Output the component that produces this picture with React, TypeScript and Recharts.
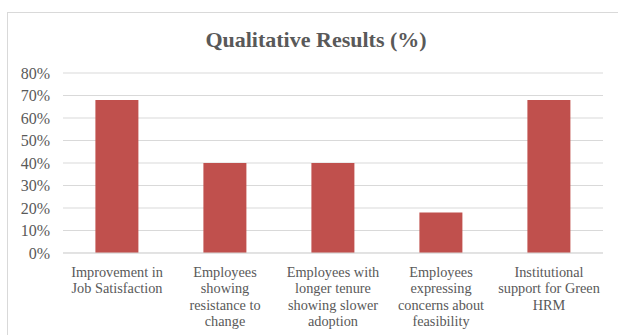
import React from 'react';
import { BarChart, Bar, XAxis, YAxis, CartesianGrid } from 'recharts';

const categories = [
  'Improvement in\nJob Satisfaction',
  'Employees\nshowing\nresistance to\nchange',
  'Employees with\nlonger tenure\nshowing slower\nadoption',
  'Employees\nexpressing\nconcerns about\nfeasibility',
  'Institutional\nsupport for Green\nHRM',
];
const percentages = [68, 40, 40, 18, 68];
const yTicks = [0, 10, 20, 30, 40, 50, 60, 70, 80];

const data = categories.map((name, i) => ({ name, value: percentages[i] }));

const FONT = "'Liberation Serif', 'Times New Roman', serif";
const TEXT = '#595959';
const GRID = '#D9D9D9';

function WrappedTick({ x, y, payload }: any) {
  const lines = String(payload.value).split('\n');
  return (
    <text x={x} y={y} textAnchor="middle" fill={TEXT} fontSize={14.3} fontFamily={FONT}>
      {lines.map((line, i) => (
        <tspan key={i} x={x} dy={i === 0 ? 24 : 16.3}>
          {line}
        </tspan>
      ))}
    </text>
  );
}

export default function App() {
  return (
    <div style={{ position: 'fixed', left: 0, top: 0, width: 618, height: 335, background: '#fff', overflow: 'hidden' }}>
      <div
        style={{
          position: 'absolute',
          left: 7,
          top: 12,
          width: 700,
          height: 400,
          border: `1px solid ${GRID}`,
        }}
      />
      <div
        style={{
          position: 'absolute',
          left: 0,
          top: 27,
          width: 632,
          textAlign: 'center',
          fontFamily: FONT,
          fontWeight: 'bold',
          fontSize: 22,
          lineHeight: '26px',
          color: TEXT,
        }}
      >
        Qualitative Results (%)
      </div>
      <div style={{ position: 'absolute', left: 0, top: 0 }}>
        <BarChart
          width={618}
          height={335}
          data={data}
          margin={{ top: 73, right: 15, left: 0, bottom: 0 }}
          barCategoryGap="30%"
        >
          <CartesianGrid vertical={false} stroke={GRID} />
          <XAxis
            dataKey="name"
            axisLine={{ stroke: GRID }}
            tickLine={false}
            tickSize={0}
            tickMargin={0}
            height={82}
            interval={0}
            tick={<WrappedTick />}
          />
          <YAxis
            domain={[0, 80]}
            ticks={yTicks}
            interval={0}
            width={63}
            axisLine={false}
            tickLine={false}
            tickSize={0}
            tickMargin={13}
            tickFormatter={(v) => `${v}%`}
            tick={{ fill: TEXT, fontSize: 16, fontFamily: FONT }}
          />
          <Bar dataKey="value" fill="#C0504D" isAnimationActive={false} />
        </BarChart>
      </div>
    </div>
  );
}
